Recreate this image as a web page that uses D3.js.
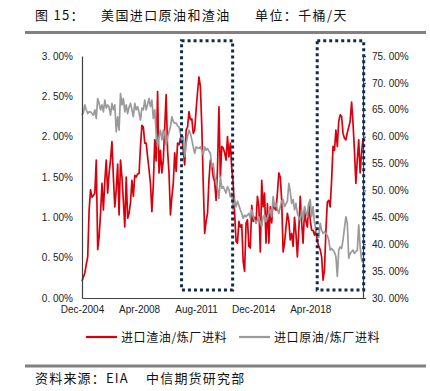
<!DOCTYPE html>
<html><head><meta charset="utf-8">
<script src="https://cdn.jsdelivr.net/npm/d3@7/dist/d3.min.js"></script>
<style>
html,body{margin:0;padding:0;background:#fff;}
svg{display:block;}
</style>
</head><body>
<svg id="c" width="430" height="391"></svg>
<script>
// ---- data (monthly, index 0 = Dec-2004) ----
const residualShare = [ // 进口渣油/炼厂进料, %
0.21,0.26,0.31,0.42,0.51,1.09,1.34,1.25,1.27,1.30,
1.71,0.60,0.76,1.05,1.42,1.09,1.45,1.71,1.30,1.55,
1.71,1.94,1.50,1.13,1.34,1.66,1.03,1.71,1.50,1.20,
0.88,1.50,0.99,1.05,1.18,1.46,1.26,1.52,1.50,1.54,
1.54,1.88,2.14,2.12,1.92,1.92,1.75,1.59,1.42,1.07,
1.40,1.96,1.70,2.56,1.55,1.83,1.55,1.71,2.12,2.52,
1.83,1.55,1.03,1.25,1.42,1.80,1.57,1.92,1.90,1.98,
2.00,1.83,1.65,2.08,2.12,2.31,2.21,2.22,2.04,2.08,
2.33,2.55,2.74,2.62,2.12,1.42,0.80,0.95,1.05,1.46,
1.71,1.65,1.50,1.44,1.21,1.60,2.37,1.50,1.88,1.86,
1.80,1.71,2.00,1.75,1.92,1.60,1.42,1.05,0.70,0.68,
0.95,0.88,0.91,0.45,0.33,0.93,0.97,0.64,0.62,1.15,
0.95,1.00,0.93,1.26,1.13,0.57,1.46,1.13,1.30,0.68,
1.17,0.68,1.13,0.93,1.21,1.11,1.09,1.30,1.55,1.50,
1.21,0.57,0.68,0.88,1.05,0.95,0.72,0.80,0.64,1.00,
0.80,0.51,0.84,1.26,0.93,0.68,1.09,0.95,0.88,1.17,
0.97,0.84,0.84,0.78,0.84,0.70,0.64,0.60,0.51,0.22,
0.35,0.84,1.19,1.21,1.13,1.46,1.88,1.83,2.08,1.88,
2.19,2.27,2.25,2.04,1.98,1.96,2.05,2.12,2.19,2.43,
2.17,1.83,1.42,1.71,1.96,1.55,1.80,1.98];
const crudeShare = [ // 进口原油/炼厂进料, %
64.0,64.5,65.9,65.0,64.3,64.6,64.6,64.3,64.0,65.0,
63.4,67.1,66.2,65.0,65.9,64.6,66.8,65.3,65.9,65.5,
64.0,66.2,65.0,65.9,60.9,63.7,61.2,68.0,65.9,67.1,
64.6,65.9,64.3,65.5,66.2,65.0,63.7,66.2,65.0,65.6,
64.5,63.1,65.3,65.0,66.8,65.0,66.0,67.1,65.6,66.8,
63.4,65.0,60.6,58.1,60.0,61.2,59.4,61.2,60.6,58.4,
59.8,60.9,61.85,63.7,62.8,62.5,62.5,62.0,61.85,60.6,
59.4,60.0,56.3,58.7,60.0,61.2,60.6,59.4,58.1,56.9,
58.1,57.9,57.8,58.1,57.5,56.6,58.1,57.5,57.8,57.3,
56.9,54.4,55.0,52.6,51.9,50.2,48.5,52.6,50.4,50.7,
50.1,49.5,50.7,50.2,48.8,49.5,46.4,48.3,47.0,48.0,
47.2,46.4,45.75,44.8,45.4,45.1,45.4,45.75,44.8,46.4,
45.1,44.5,43.9,44.5,45.1,43.9,43.3,45.1,45.4,44.2,
45.0,45.75,46.4,45.1,48.85,47.0,47.6,46.5,45.75,47.0,
48.0,48.3,47.0,47.5,48.0,51.3,49.8,47.6,48.3,46.4,
47.6,45.75,45.0,44.5,46.4,44.5,47.0,46.0,45.1,47.6,
48.3,45.1,47.0,44.0,42.6,41.6,41.3,43.9,42.6,42.0,
42.3,42.0,41.6,40.8,38.9,39.2,38.9,38.5,37.7,34.0,
38.9,39.5,39.2,40.8,43.0,45.1,43.9,37.4,38.3,38.6,
38.9,38.3,38.6,38.9,43.6,39.5,37.1,36.5];
const xTickIndex = [0, 40, 80, 120, 160];
const xTickLabels = ["Dec-2004", "Apr-2008", "Aug-2011", "Dec-2014", "Apr-2018"];
const leftTicks = [0, 0.5, 1.0, 1.5, 2.0, 2.5, 3.0];
const rightTicks = [30, 35, 40, 45, 50, 55, 60, 65, 70, 75];
const seriesNames = ["进口渣油/炼厂进料", "进口原油/炼厂进料"];
// highlighted periods: [start index, end index], left-axis value range
const boxes = [[69.8, 105.6], [164.9, 197.5]];
const boxRange = [0.1, 3.19];

// ---- drawing ----
const svg = d3.select("#c");
const L = 82, R = 363, T = 56, B = 298;
const n = residualShare.length;
const x = d3.scaleLinear().domain([0, n - 1]).range([L, R]);
const yL = d3.scaleLinear().domain([0, 3]).range([B, T]);
const yR = d3.scaleLinear().domain([30, 75]).range([B, T]);
const axisColor = "#404040";
const font = "'Liberation Sans', Arial, sans-serif";
const cjk = "'Noto Sans CJK SC', sans-serif";

// title
svg.append("text").attr("x", 35).attr("y", 20).attr("font-family", cjk).attr("font-size", 13)
  .attr("fill", "#111").attr("letter-spacing", 1.3).attr("xml:space", "preserve")
  .text("图 15：");
svg.append("text").attr("x", 101).attr("y", 20).attr("font-family", cjk).attr("font-size", 13)
  .attr("fill", "#111").attr("letter-spacing", 1.4).text("美国进口原油和渣油");
svg.append("text").attr("x", 255).attr("y", 20).attr("font-family", cjk).attr("font-size", 13)
  .attr("fill", "#111").attr("letter-spacing", 1.4).text("单位：千桶/天");
svg.append("rect").attr("x", 25).attr("y", 31).attr("width", 401).attr("height", 3).attr("fill", "#808080");

// lines
const lineRed = d3.line().x((d, i) => x(i)).y(d => yL(d));
const lineGray = d3.line().x((d, i) => x(i)).y(d => yR(d));
svg.append("path").datum(residualShare).attr("d", lineRed)
  .attr("fill", "none").attr("stroke", "#d9000d").attr("stroke-width", 1.7).attr("stroke-linejoin", "round");
svg.append("path").datum(crudeShare).attr("d", lineGray)
  .attr("fill", "none").attr("stroke", "#9a9a9a").attr("stroke-width", 1.7).attr("stroke-linejoin", "round");

// axes
const fmt = v => {
  const s = v.toFixed(2);
  const p = s.split(".");
  return p[0] + ". " + p[1] + "%";
};
const gL = svg.append("g").attr("transform", `translate(${L},0)`)
  .call(d3.axisLeft(yL).tickValues(leftTicks).tickSize(0).tickPadding(9).tickFormat(fmt));
const gR = svg.append("g").attr("transform", `translate(${R},0)`)
  .call(d3.axisRight(yR).tickValues(rightTicks).tickSize(3).tickSizeOuter(0).tickPadding(6).tickFormat(fmt));
const gB = svg.append("g").attr("transform", `translate(0,${B})`)
  .call(d3.axisBottom(x).tickValues(xTickIndex).tickSize(0).tickPadding(9)
    .tickFormat((d, i) => xTickLabels[i]));
[gL, gR, gB].forEach(g => {
  g.select(".domain").attr("stroke", axisColor).attr("stroke-width", 1.2);
  g.selectAll(".tick line").attr("stroke", axisColor).attr("stroke-width", 1);
  g.selectAll("text").attr("font-family", font).attr("font-size", 10).attr("fill", "#222");
});
gB.selectAll("text").attr("dy", "0.55em");

// highlight boxes
boxes.forEach(b => {
  svg.append("rect")
    .attr("x", x(b[0])).attr("y", yL(boxRange[1]))
    .attr("width", x(b[1]) - x(b[0])).attr("height", yL(boxRange[0]) - yL(boxRange[1]))
    .attr("fill", "none").attr("stroke", "#0e2a4d").attr("stroke-width", 3)
    .attr("stroke-dasharray", "3,3");
});

// legend
const lg = [[86, 121, "#d9000d"], [239, 274, "#9a9a9a"]];
lg.forEach((l, i) => {
  svg.append("line").attr("x1", l[0]).attr("x2", l[0] + 31).attr("y1", 337).attr("y2", 337)
    .attr("stroke", l[2]).attr("stroke-width", 2.2);
  svg.append("text").attr("x", l[1]).attr("y", 341.5).attr("font-family", cjk).attr("font-size", 12)
    .attr("letter-spacing", 0.6).attr("fill", "#111").text(seriesNames[i]);
});

// source
svg.append("rect").attr("x", 25).attr("y", 364.5).attr("width", 401).attr("height", 3).attr("fill", "#808080");
svg.append("text").attr("x", 35).attr("y", 383).attr("font-family", cjk).attr("font-size", 13)
  .attr("letter-spacing", 1.2).attr("fill", "#111").text("资料来源：EIA");
svg.append("text").attr("x", 146).attr("y", 383).attr("font-family", cjk).attr("font-size", 13)
  .attr("letter-spacing", 1.2).attr("fill", "#111").text("中信期货研究部");
</script>
</body></html>
